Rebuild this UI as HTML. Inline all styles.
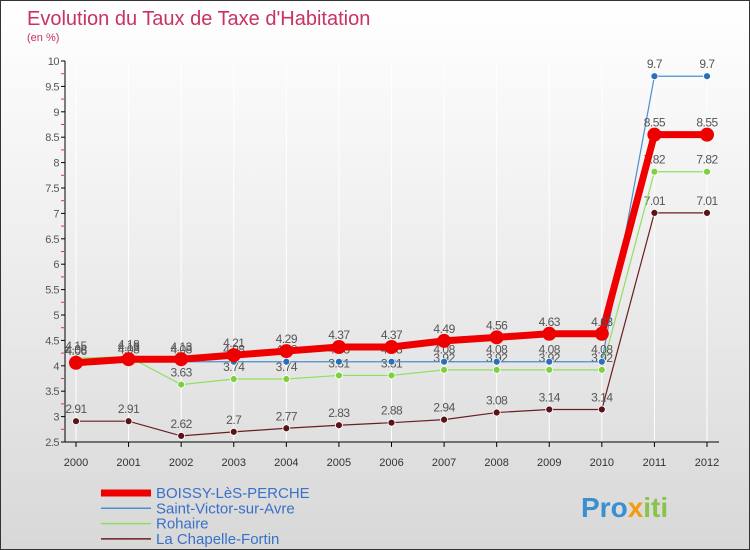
<!DOCTYPE html>
<html><head><meta charset="utf-8"><style>
body{margin:0}
#c{width:748px;height:548px;border:1px solid #333;position:relative;background:linear-gradient(#fff,#f0f0f0 40%,#d8d8d8);font-family:"Liberation Sans",sans-serif;overflow:hidden}
</style></head><body>
<div id="c">
<svg id="s" width="748" height="548" style="position:absolute;left:0;top:0">
<text x="26" y="24" font-size="20" fill="#c8335f">Evolution du Taux de Taxe d'Habitation</text>
<text x="26" y="40" font-size="11" fill="#c8335f">(en %)</text>
<g id="ax"></g><g id="series"></g><g id="lg"></g>
<text x="580" y="516" font-size="28" font-weight="bold" fill="#3a8fd0">Pro<tspan fill="#f39c12">x</tspan><tspan fill="#8bc34a">iti</tspan></text>
</svg>
</div>
<script>
const years=[2000,2001,2002,2003,2004,2005,2006,2007,2008,2009,2010,2011,2012];
const yTicks=[2.5,3,3.5,4,4.5,5,5.5,6,6.5,7,7.5,8,8.5,9,9.5,10];
const boissy=[4.06,4.13,4.13,4.21,4.29,4.37,4.37,4.49,4.56,4.63,4.63,8.55,8.55];
const stVictor=[4.08,4.08,4.08,4.08,4.08,4.08,4.08,4.08,4.08,4.08,4.08,9.7,9.7];
const rohaire=[4.15,4.18,3.63,3.74,3.74,3.81,3.81,3.92,3.92,3.92,3.92,7.82,7.82];
const chapelle=[2.91,2.91,2.62,2.7,2.77,2.83,2.88,2.94,3.08,3.14,3.14,7.01,7.01];
const names=["BOISSY-LèS-PERCHE","Saint-Victor-sur-Avre","Rohaire","La Chapelle-Fortin"];
const NS="http://www.w3.org/2000/svg";
const X=i=>75+i*(631/12);
const Y=v=>441-(v-2.5)*(381/7.5);
function mk(t,a,p){const e=document.createElementNS(NS,t);for(const k in a)e.setAttribute(k,a[k]);p.appendChild(e);return e;}
const ax=document.getElementById('ax');
years.forEach((y,i)=>{
const g=mk('line',{x1:X(i),x2:X(i),y1:60,y2:441,stroke:'#fff','stroke-width':1},ax);


const t=mk('text',{x:X(i),y:465,'font-size':11,'text-anchor':'middle',fill:'#333'},ax);


t.textContent=y;
mk('line',{x1:X(i),x2:X(i),y1:441,y2:446,stroke:'#000'},ax);
});
yTicks.forEach(v=>{
const t=mk('text',{x:58,y:Y(v)+4,'font-size':11,'text-anchor':'end',fill:'#555','letter-spacing':'-0.5'},ax);


t.textContent=v;
mk('line',{x1:60,x2:64,y1:Y(v),y2:Y(v),stroke:'#000'},ax);
if(v<10)mk('line',{x1:60,x2:63,y1:Y(v+0.25),y2:Y(v+0.25),stroke:'#e33'},ax);
});
mk('line',{x1:64,x2:64,y1:60,y2:441,stroke:'#000'},ax);
mk('line',{x1:64,x2:718,y1:441,y2:441,stroke:'#000'},ax);
const sg=document.getElementById('series');
const defs=[[chapelle,'#6b1e22','#5a1418',1.2,3.5,'la-chapelle-fortin'],[rohaire,'#90e060','#7ed040',1.2,3.5,'rohaire'],[stVictor,'#4a90d0','#2a70b8',1.2,3.5,'saint-victor-sur-avre'],[boissy,'#ee0000','#ee0000',7,7,'boissy-les-perche']];
defs.forEach(([d,c,dc,w,r,n])=>{
const g=mk('g',{},sg);


const p=mk('polyline',{points:d.map((v,i)=>X(i)+','+Y(v)).join(' '),fill:'none',stroke:c,'stroke-width':w},g);


d.forEach((v,i)=>{
const m=mk('circle',{cx:X(i),cy:Y(v),r:r,fill:dc,stroke:n=='boissy-les-perche'?'#ee0000':'#fff','stroke-width':n=='boissy-les-perche'?0:0.8},g);


const t=mk('text',{x:X(i),y:Y(v)-8,'font-size':12,'text-anchor':'middle',fill:'#555','letter-spacing':'-0.5'},g);


t.textContent=String(v);
});
});
const lg=document.getElementById('lg');
[['#ee0000',7],['#4a90d0',1.5],['#90e060',1.5],['#6b1e22',1.5]].forEach(([c,w],i)=>{
const y=492+i*15.3;
const g=mk('g',{},lg);


mk('line',{x1:100,x2:150,y1:y,y2:y,stroke:c,'stroke-width':w},g);
const t=mk('text',{x:155,y:y+5,'font-size':15,fill:'#3a70c8'},g);
t.textContent=names[i];
});
</script>
</body></html>
